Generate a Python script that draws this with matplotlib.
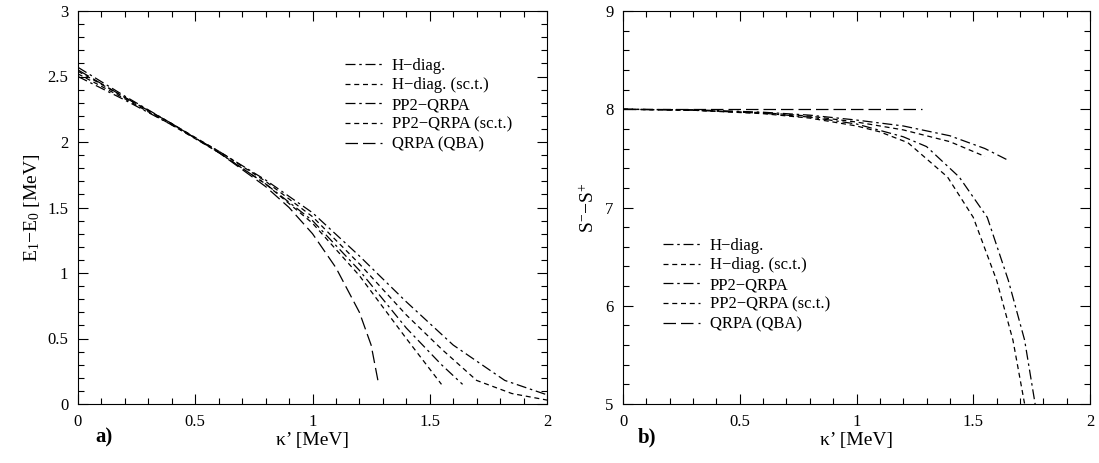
import matplotlib
matplotlib.use("Agg")
import matplotlib.pyplot as plt
from matplotlib.ticker import MultipleLocator

plt.rcParams['font.family'] = ['Liberation Serif', 'DejaVu Serif']
plt.rcParams['mathtext.fontset'] = 'custom'
plt.rcParams['mathtext.rm'] = 'Liberation Serif'
plt.rcParams['mathtext.it'] = 'Liberation Serif:italic'

labels = ["H\u2212diag.", "H\u2212diag. (sc.t.)", "PP2\u2212QRPA", "PP2\u2212QRPA (sc.t.)", "QRPA (QBA)"]

# Panel a) E1-E0 vs kappa'
a_hdiag_x = [0, 0.2, 0.4, 0.6, 0.8, 1.0, 1.2, 1.4, 1.6, 1.82, 2.0]
a_hdiag_y = [2.50, 2.32, 2.13, 1.93, 1.71, 1.46, 1.13, 0.78, 0.45, 0.18, 0.07]
a_hsct_x = [0, 0.2, 0.4, 0.6, 0.8, 1.0, 1.2, 1.4, 1.55, 1.7, 1.85, 2.0]
a_hsct_y = [2.54, 2.34, 2.14, 1.93, 1.70, 1.43, 1.07, 0.68, 0.42, 0.18, 0.08, 0.03]
a_pp2_x = [0, 0.2, 0.4, 0.6, 0.8, 1.0, 1.2, 1.4, 1.55, 1.64]
a_pp2_y = [2.57, 2.35, 2.14, 1.92, 1.68, 1.40, 1.02, 0.58, 0.30, 0.15]
a_pp2sct_x = [0, 0.2, 0.4, 0.6, 0.8, 1.0, 1.2, 1.4, 1.55]
a_pp2sct_y = [2.52, 2.33, 2.13, 1.92, 1.68, 1.38, 0.98, 0.50, 0.15]
a_qba_x = [0, 0.2, 0.4, 0.6, 0.8, 0.9, 1.0, 1.1, 1.2, 1.25, 1.28]
a_qba_y = [2.55, 2.34, 2.14, 1.92, 1.66, 1.50, 1.30, 1.04, 0.70, 0.45, 0.17]

# Panel b) S- - S+ vs kappa'
b_hdiag_x = [0, 0.3, 0.6, 0.8, 1.0, 1.2, 1.3, 1.44, 1.56, 1.65, 1.72, 1.765]
b_hdiag_y = [8.0, 7.99, 7.96, 7.92, 7.85, 7.72, 7.62, 7.31, 6.90, 6.26, 5.65, 5.0]
b_hsct_x = [0, 0.3, 0.6, 0.8, 1.0, 1.1, 1.22, 1.39, 1.5, 1.6, 1.67, 1.72]
b_hsct_y = [8.0, 7.99, 7.955, 7.91, 7.83, 7.77, 7.66, 7.31, 6.90, 6.26, 5.65, 5.0]
b_pp2_x = [0, 0.3, 0.6, 0.8, 1.0, 1.2, 1.4, 1.55, 1.65]
b_pp2_y = [8.0, 7.995, 7.97, 7.94, 7.89, 7.83, 7.73, 7.60, 7.48]
b_pp2sct_x = [0, 0.3, 0.6, 0.8, 1.0, 1.2, 1.4, 1.55]
b_pp2sct_y = [8.0, 7.99, 7.965, 7.93, 7.87, 7.79, 7.67, 7.52]
b_qba_x = [0, 1.28]
b_qba_y = [8.0, 8.0]

styles = [(0, (8, 3, 2, 3)), (0, (4, 3)), (0, (8, 3, 2, 3)), (0, (4, 3)), (0, (10, 4))]
lw = 0.9

fig = plt.figure(figsize=(10.99, 4.63), dpi=100)
ax1 = fig.add_axes([78/1099, 59/463, 469/1099, 393/463])
ax2 = fig.add_axes([623/1099, 59/463, 467/1099, 393/463])

adata = [(a_hdiag_x, a_hdiag_y), (a_hsct_x, a_hsct_y), (a_pp2_x, a_pp2_y),
         (a_pp2sct_x, a_pp2sct_y), (a_qba_x, a_qba_y)]
bdata = [(b_hdiag_x, b_hdiag_y), (b_hsct_x, b_hsct_y), (b_pp2_x, b_pp2_y),
         (b_pp2sct_x, b_pp2sct_y), (b_qba_x, b_qba_y)]

for (x, y), ls, lab in zip(adata, styles, labels):
    ax1.plot(x, y, color='black', lw=lw, linestyle=ls, label=lab)
for (x, y), ls, lab in zip(bdata, styles, labels):
    ax2.plot(x, y, color='black', lw=lw, linestyle=ls, label=lab)

ax1.set_xlim(0, 2)
ax1.set_ylim(0, 3)
ax2.set_xlim(0, 2)
ax2.set_ylim(5, 9)
ax1.yaxis.set_major_locator(MultipleLocator(0.5))
ax1.yaxis.set_minor_locator(MultipleLocator(0.1))
ax2.yaxis.set_major_locator(MultipleLocator(1))
ax2.yaxis.set_minor_locator(MultipleLocator(0.2))
for ax in (ax1, ax2):
    ax.xaxis.set_major_locator(MultipleLocator(0.5))
    ax.xaxis.set_minor_locator(MultipleLocator(0.1))
    ax.tick_params(which='both', direction='in', top=True, right=True, labelsize=12, width=0.8)
    ax.tick_params(which='major', length=7, pad=7)
    ax.tick_params(which='minor', length=4)
    for s in ax.spines.values():
        s.set_linewidth(0.8)
    ax.xaxis.set_major_formatter(matplotlib.ticker.FuncFormatter(lambda v, p: ('%g' % v)))
    ax.yaxis.set_major_formatter(matplotlib.ticker.FuncFormatter(lambda v, p: ('%g' % v)))
    ax.set_xlabel("\u03ba\u2019 [MeV]", fontsize=14, labelpad=2)

ax1.set_ylabel(r"E$_1$$-$E$_0$ [MeV]", fontsize=14, labelpad=4)
ax2.set_ylabel(r"S$^{-}$$-$S$^{+}$", fontsize=14, labelpad=5)

leg_kw = dict(frameon=False, fontsize=12, handlelength=2.2, handletextpad=0.6,
              labelspacing=0.22, borderaxespad=0)
ax1.legend(loc='upper left', bbox_to_anchor=(0.555, 0.898), **leg_kw)
ax2.legend(loc='upper left', bbox_to_anchor=(0.072, 0.44), **leg_kw)

fig.text(95/1099, 1 - 437/463, "a)", fontsize=15, fontweight='bold', va='center', ha='left')
fig.text(638/1099, 1 - 437/463, "b)", fontsize=15, fontweight='bold', va='center', ha='left')

fig.savefig("out.png", dpi=100)
